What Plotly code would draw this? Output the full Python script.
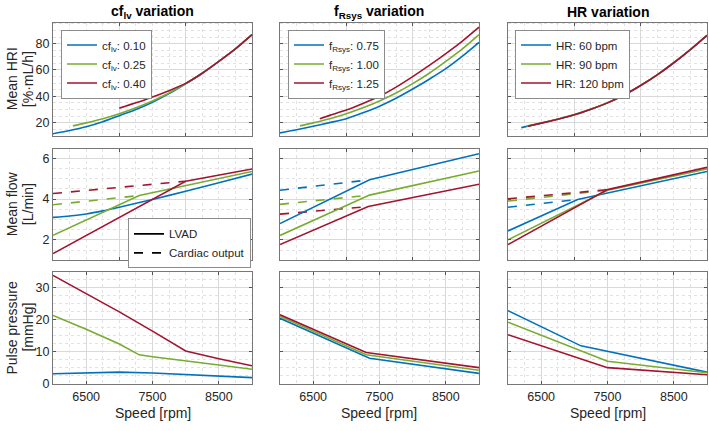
import plotly.graph_objects as go

# ---------------- data ----------------
speeds = [6000, 6250, 6500, 6750, 7000, 7250, 7500, 7750, 8000, 8250, 8500, 8750, 9000]

# Row 1: Mean HRI [%·mL/h]
hri_cf010_x = speeds
hri_cf010_y = [11.5, 14.0, 16.8, 20.6, 25.3, 30.0, 35.5, 42.0, 49.5, 57.5, 66.5, 76.0, 86.8]
hri_cf025_x = [6300, 6500, 6750, 7000, 7250, 7500, 7750, 8000, 8250, 8500, 8750, 9000]
hri_cf025_y = [17.5, 19.8, 23.0, 26.8, 31.3, 36.5, 42.5, 49.6, 57.5, 66.5, 76.0, 86.8]
hri_cf040_x = [7000, 7250, 7500, 7750, 8000, 8250, 8500, 8750, 9000]
hri_cf040_y = [31.0, 35.0, 39.5, 44.3, 49.8, 57.5, 66.5, 76.0, 86.8]

hri_fr075_x = speeds
hri_fr075_y = [12.2, 14.5, 17.2, 20.0, 23.0, 27.5, 32.5, 38.5, 45.5, 53.0, 61.0, 70.5, 81.0]
hri_fr100_x = [6300, 6500, 6750, 7000, 7250, 7500, 7750, 8000, 8250, 8500, 8750, 9000]
hri_fr100_y = [17.5, 19.8, 23.0, 26.8, 31.3, 36.5, 42.5, 49.6, 57.5, 66.5, 76.0, 86.8]
hri_fr125_x = [6600, 6750, 7000, 7250, 7500, 7750, 8000, 8250, 8500, 8750, 9000]
hri_fr125_y = [23.0, 25.5, 29.5, 34.5, 40.0, 47.0, 55.0, 63.5, 72.5, 82.0, 92.5]

hri_hr60_x = [6200, 6500, 6750, 7000, 7250, 7500, 7750, 8000, 8250, 8500, 8750, 9000]
hri_hr60_y = [16.2, 19.5, 22.5, 25.9, 30.2, 35.0, 41.0, 48.2, 56.3, 65.5, 75.5, 86.3]
hri_hr90_x = [6280, 6500, 6750, 7000, 7250, 7500, 7750, 8000, 8250, 8500, 8750, 9000]
hri_hr90_y = [17.3, 19.7, 22.7, 26.1, 30.3, 35.1, 41.1, 48.3, 56.4, 65.6, 75.6, 86.4]
hri_hr120_x = [6300, 6500, 6750, 7000, 7250, 7500, 7750, 8000, 8250, 8500, 8750, 9000]
hri_hr120_y = [17.3, 19.6, 22.6, 26.0, 30.2, 35.0, 41.0, 48.2, 56.3, 65.5, 75.5, 86.3]

# Row 2: Mean flow [L/min] (LVAD solid, cardiac output dashed)
lvad_cf010_x = [6000, 6250, 6500, 6750, 7000, 7500, 8000, 8500, 9000]
lvad_cf010_y = [3.10, 3.17, 3.27, 3.42, 3.60, 3.98, 4.38, 4.80, 5.22]
lvad_cf025_x = [6000, 7300, 9000]
lvad_cf025_y = [2.22, 4.17, 5.35]
co_cf025_x = [6000, 7300]
co_cf025_y = [3.72, 4.17]
lvad_cf040_x = [6000, 8000, 9000]
lvad_cf040_y = [1.33, 4.87, 5.47]
co_cf040_x = [6000, 8000]
co_cf040_y = [4.27, 4.87]

lvad_fr075_x = [6000, 7350, 9000]
lvad_fr075_y = [2.80, 4.94, 6.22]
co_fr075_x = [6000, 7350]
co_fr075_y = [4.43, 4.94]
lvad_fr100_x = [6000, 7350, 9000]
lvad_fr100_y = [2.22, 4.19, 5.37]
co_fr100_x = [6000, 7350]
co_fr100_y = [3.74, 4.19]
lvad_fr125_x = [6000, 7330, 9000]
lvad_fr125_y = [1.77, 3.63, 4.72]
co_fr125_x = [6000, 7330]
co_fr125_y = [3.26, 3.63]

lvad_hr60_x = [6000, 7050, 9000]
lvad_hr60_y = [2.44, 3.98, 5.35]
co_hr60_x = [6000, 7050]
co_hr60_y = [3.60, 3.98]
lvad_hr90_x = [6000, 7500, 9000]
lvad_hr90_y = [2.00, 4.43, 5.47]
co_hr90_x = [6000, 7500]
co_hr90_y = [3.90, 4.43]
lvad_hr120_x = [6000, 7500, 9000]
lvad_hr120_y = [1.77, 4.46, 5.55]
co_hr120_x = [6000, 7500]
co_hr120_y = [4.01, 4.46]

# Row 3: Pulse pressure [mmHg]
pp_cf010_x = [6000, 6500, 7000, 7500, 8000, 8500, 9000]
pp_cf010_y = [3.1, 3.4, 3.6, 3.35, 2.8, 2.4, 1.9]
pp_cf025_x = [6000, 6500, 7000, 7300, 7500, 8000, 8500, 9000]
pp_cf025_y = [21.3, 17.0, 12.4, 9.0, 8.4, 7.0, 5.8, 4.5]
pp_cf040_x = [6000, 6500, 7000, 7500, 8000, 8500, 9000]
pp_cf040_y = [33.8, 28.2, 22.4, 16.4, 10.2, 7.8, 5.6]

pp_fr075_x = [6000, 7350, 9000]
pp_fr075_y = [20.4, 7.9, 3.2]
pp_fr100_x = [6000, 7300, 9000]
pp_fr100_y = [21.0, 9.0, 4.2]
pp_fr125_x = [6000, 7300, 9000]
pp_fr125_y = [21.5, 9.7, 5.0]

pp_hr60_x = [6000, 7100, 9000]
pp_hr60_y = [22.8, 11.8, 3.6]
pp_hr90_x = [6000, 7500, 9000]
pp_hr90_y = [19.2, 7.0, 3.4]
pp_hr120_x = [6000, 7500, 9000]
pp_hr120_y = [15.3, 5.0, 2.8]

col_titles = ["<b>cf<sub>lv</sub> variation</b>", "<b>f<sub>Rsys</sub> variation</b>", "<b>HR variation</b>"]
legend_names = [
    ["cf<sub>lv</sub>: 0.10", "cf<sub>lv</sub>: 0.25", "cf<sub>lv</sub>: 0.40"],
    ["f<sub>Rsys</sub>: 0.75", "f<sub>Rsys</sub>: 1.00", "f<sub>Rsys</sub>: 1.25"],
    ["HR: 60 bpm", "HR: 90 bpm", "HR: 120 bpm"],
]
row_labels = [["Mean HRI", "[%·mL/h]"], ["Mean flow", "[L/min]"], ["Pulse pressure", "[mmHg]"]]
x_label = "Speed [rpm]"
x_ticks_bottom = [6500, 7500, 8500]
x_ticks_upper = [7000, 8000]

# ---------------- styling ----------------
W, H = 709, 431
FONT = "Liberation Sans, Arial, Helvetica, sans-serif"
COLORS = ["#0072BD", "#77AC30", "#A2142F"]
LW = 1.6
col_px = [(53, 252), (280, 479), (508, 707)]
row_px = [(23, 138), (151, 264), (276, 390)]
y_ranges = [[10, 96], [1.03, 6.47], [0, 35]]
y_ticks = [[20, 40, 60, 80], [2, 4, 6], [0, 10, 20, 30]]
y_minor = [5, 0.5, 2.5]

fig = go.Figure()

hri = [
    [(hri_cf010_x, hri_cf010_y), (hri_cf025_x, hri_cf025_y), (hri_cf040_x, hri_cf040_y)],
    [(hri_fr075_x, hri_fr075_y), (hri_fr100_x, hri_fr100_y), (hri_fr125_x, hri_fr125_y)],
    [(hri_hr60_x, hri_hr60_y), (hri_hr90_x, hri_hr90_y), (hri_hr120_x, hri_hr120_y)],
]
lvad = [
    [(lvad_cf010_x, lvad_cf010_y), (lvad_cf025_x, lvad_cf025_y), (lvad_cf040_x, lvad_cf040_y)],
    [(lvad_fr075_x, lvad_fr075_y), (lvad_fr100_x, lvad_fr100_y), (lvad_fr125_x, lvad_fr125_y)],
    [(lvad_hr60_x, lvad_hr60_y), (lvad_hr90_x, lvad_hr90_y), (lvad_hr120_x, lvad_hr120_y)],
]
co = [
    [None, (co_cf025_x, co_cf025_y), (co_cf040_x, co_cf040_y)],
    [(co_fr075_x, co_fr075_y), (co_fr100_x, co_fr100_y), (co_fr125_x, co_fr125_y)],
    [(co_hr60_x, co_hr60_y), (co_hr90_x, co_hr90_y), (co_hr120_x, co_hr120_y)],
]
pp = [
    [(pp_cf010_x, pp_cf010_y), (pp_cf025_x, pp_cf025_y), (pp_cf040_x, pp_cf040_y)],
    [(pp_fr075_x, pp_fr075_y), (pp_fr100_x, pp_fr100_y), (pp_fr125_x, pp_fr125_y)],
    [(pp_hr60_x, pp_hr60_y), (pp_hr90_x, pp_hr90_y), (pp_hr120_x, pp_hr120_y)],
]

def ax_ids(r, c):
    n = r * 3 + c + 1
    s = "" if n == 1 else str(n)
    return "x" + s, "y" + s

legend_keys = ["legend", "legend2", "legend3"]

for c in range(3):
    xa, ya = ax_ids(0, c)
    for i, (xs, ys) in enumerate(hri[c]):
        fig.add_trace(go.Scatter(x=xs, y=ys, mode="lines", name=legend_names[c][i],
                                 line=dict(color=COLORS[i], width=LW, shape="spline", smoothing=0.6),
                                 xaxis=xa, yaxis=ya, legend=legend_keys[c], showlegend=True))
    xa, ya = ax_ids(1, c)
    for i in range(3):
        if co[c][i] is not None:
            xs, ys = co[c][i]
            fig.add_trace(go.Scatter(x=xs, y=ys, mode="lines", line=dict(color=COLORS[i], width=LW, dash="dash"),
                                     xaxis=xa, yaxis=ya, showlegend=False))
    for i in range(3):
        xs, ys = lvad[c][i]
        fig.add_trace(go.Scatter(x=xs, y=ys, mode="lines", line=dict(color=COLORS[i], width=LW,
                                 shape="spline" if len(xs) > 3 else "linear", smoothing=0.5),
                                 xaxis=xa, yaxis=ya, showlegend=False))
    xa, ya = ax_ids(2, c)
    for i, (xs, ys) in enumerate(pp[c]):
        fig.add_trace(go.Scatter(x=xs, y=ys, mode="lines",
                                 line=dict(color=COLORS[i], width=LW),
                                 xaxis=xa, yaxis=ya, showlegend=False))

# legend entries for line styles
fig.add_trace(go.Scatter(x=[None], y=[None], mode="lines", name="LVAD",
                         line=dict(color="black", width=LW), xaxis="x4", yaxis="y4", legend="legend4"))
fig.add_trace(go.Scatter(x=[None], y=[None], mode="lines", name="Cardiac output",
                         line=dict(color="black", width=LW, dash="dash"), xaxis="x4", yaxis="y4", legend="legend4"))

layout = dict(
    width=W, height=H, margin=dict(l=0, r=0, t=0, b=0),
    paper_bgcolor="white", plot_bgcolor="white",
    font=dict(family=FONT, size=12, color="#262626"),
    annotations=[],
)

for r in range(3):
    for c in range(3):
        n = r * 3 + c + 1
        s = "" if n == 1 else str(n)
        x0, x1 = col_px[c]
        y0, y1 = row_px[r]
        bottom = (r == 2)
        layout["xaxis" + s] = dict(
            domain=[x0 / W, x1 / W], anchor="y" + s, range=[6000, 9000],
            tickvals=x_ticks_bottom if bottom else x_ticks_upper,
            showticklabels=bottom, ticks="inside", ticklen=3, tickcolor="#555",
            ticklabelstandoff=1,
            showline=True, linecolor="#777", linewidth=1, mirror="ticks",
            showgrid=True, gridcolor="#d9d9d9", gridwidth=1, zeroline=False,
            tickfont=dict(size=12.5, color="#262626"),
            minor=dict(showgrid=True, gridcolor="#e2e2e2", griddash="dot", dtick=250, tick0=6000, ticks=""),
        )
        layout["yaxis" + s] = dict(
            domain=[(H - y1) / H, (H - y0) / H], anchor="x" + s, range=y_ranges[r],
            tickvals=y_ticks[r], showticklabels=(c == 0), ticks="inside", ticklen=3, tickcolor="#555",
            showline=True, linecolor="#777", linewidth=1, mirror="ticks",
            showgrid=True, gridcolor="#d9d9d9", gridwidth=1, zeroline=False,
            tickfont=dict(size=12.5, color="#262626"),
            minor=dict(showgrid=True, gridcolor="#e2e2e2", griddash="dot", dtick=y_minor[r], ticks=""),
        )

leg_common = dict(bgcolor="white", bordercolor="#8c8c8c", borderwidth=1,
                  font=dict(family=FONT, size=11.5, color="#262626"),
                  xanchor="left", yanchor="top", tracegroupgap=0, itemwidth=30)
layout["legend"] = dict(x=61 / W, y=(H - 30) / H, **leg_common)
layout["legend2"] = dict(x=288 / W, y=(H - 30) / H, **leg_common)
layout["legend3"] = dict(x=515 / W, y=(H - 30) / H, **leg_common)
layout["legend4"] = dict(x=128 / W, y=(H - 222) / H, **leg_common)

for c in range(3):
    x0, x1 = col_px[c]
    layout["annotations"].append(dict(
        text=col_titles[c], x=(x0 + x1) / 2 / W, y=(H - 12) / H, xref="paper", yref="paper",
        showarrow=False, xanchor="center", yanchor="middle", font=dict(size=14, color="#000")))
    layout["annotations"].append(dict(
        text=x_label, x=(x0 + x1) / 2 / W, y=(H - 420) / H, xref="paper", yref="paper",
        showarrow=False, xanchor="center", yanchor="middle", font=dict(size=14, color="#262626")))
for r in range(3):
    y0, y1 = row_px[r]
    for j, xpx in enumerate([12, 28]):
        layout["annotations"].append(dict(
            text=row_labels[r][j], x=xpx / W, y=(H - (y0 + y1) / 2) / H, xref="paper", yref="paper",
            showarrow=False, xanchor="center", yanchor="middle", textangle=-90,
            font=dict(size=14, color="#262626")))

fig.update_layout(**layout)
fig.write_html("out.html")
